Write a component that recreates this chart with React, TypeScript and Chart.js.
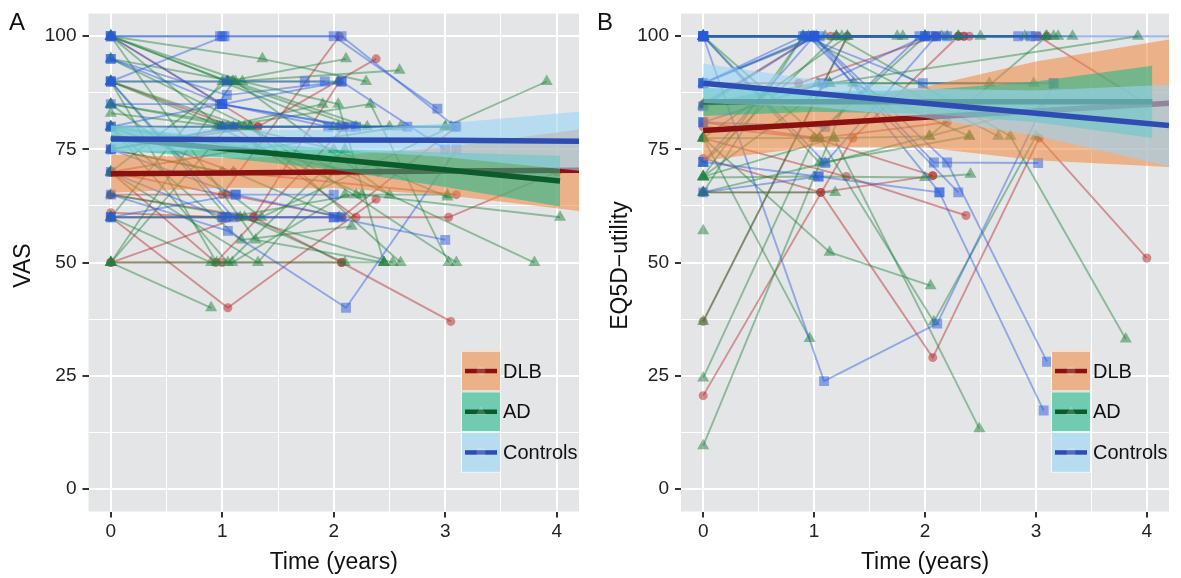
import React, { useEffect, useRef } from 'react';
import { Chart, registerables } from 'chart.js';

Chart.register(...registerables);

type Traj = number[][];

const FONT = '"Liberation Sans", Arial, Helvetica, sans-serif';
const groups = ['DLB', 'AD', 'Controls'];
const xGrid = [0, 0.5, 1, 1.5, 2, 2.5, 3, 3.5, 4];
const yGrid = [0, 12.5, 25, 37.5, 50, 62.5, 75, 87.5, 100];

// ---------- Panel A: VAS ----------
const vasDLB: Traj[] = [
  [[0, 70], [1.0, 65], [2.05, 100]],
  [[0, 50], [1.0, 50], [2.07, 50], [3.05, 37]],
  [[0, 60], [1.05, 40], [2.38, 64]],
  [[0, 75], [1.32, 80], [2.38, 95]],
  [[0, 65], [1.28, 60], [2.05, 90]],
  [[0, 61], [1.0, 60], [3.03, 60], [4.0, 70]],
  [[0, 70], [0.94, 50], [2.1, 80]],
  [[0, 80], [1.1, 70], [3.1, 65]],
  [[0, 65], [1.05, 65], [2.07, 60], [3.1, 80]],
  [[0, 70], [1.2, 75], [2.2, 70]],
  [[0, 50], [1.15, 60]],
  [[0, 75], [1.0, 70], [2.4, 70]],
  [[0, 90], [1.1, 80], [2.2, 60]],
  [[0, 100], [1.32, 80]],
  [[0, 60], [1.28, 60], [2.07, 50]],
];
const vasAD: Traj[] = [
  [[0, 100], [1.36, 95], [2.29, 90]],
  [[0, 85], [1.1, 80], [2.04, 80], [3.0, 80], [3.91, 90]],
  [[0, 100], [1.04, 90], [2.11, 95]],
  [[0, 90], [1.09, 90], [2.59, 92.5]],
  [[0, 100], [1.18, 90], [2.04, 85], [2.45, 50]],
  [[0, 83], [1.0, 80], [2.33, 85], [3.03, 50]],
  [[0, 80], [1.17, 55], [2.16, 58]],
  [[0, 60], [1.16, 60], [2.53, 50]],
  [[0, 50], [0.9, 40]],
  [[0, 50], [1.09, 50], [2.1, 65], [3.02, 65]],
  [[0, 70], [1.32, 50], [2.0, 70]],
  [[0, 90], [1.2, 80], [3.8, 50]],
  [[0, 80], [0.95, 80], [2.25, 65], [4.03, 60]],
  [[0, 60], [0.9, 50], [2.45, 50]],
  [[0, 75], [1.15, 80], [2.0, 75], [3.02, 64.5]],
  [[0, 90], [1.0, 80], [1.9, 85]],
  [[0, 100], [1.05, 90], [2.2, 80], [3.0, 80]],
  [[0, 70], [1.1, 70], [2.05, 60]],
  [[0, 100], [0.98, 80], [2.5, 80]],
  [[0, 65], [1.2, 60], [2.1, 50]],
  [[0, 85], [1.25, 80], [3.1, 50]],
  [[0, 75], [1.0, 70]],
  [[0, 95], [1.12, 90], [2.5, 65]],
  [[0, 50], [1.05, 80]],
  [[0, 80], [1.3, 75], [2.6, 80]],
  [[0, 100], [1.3, 55], [2.45, 50]],
  [[0, 90], [1.05, 60], [2.2, 65]],
  [[0, 80], [1.05, 50], [2.1, 75]],
  [[0, 60], [1.0, 90], [2.0, 80]],
  [[0, 50], [1.1, 90], [2.3, 80]],
  [[0, 95], [1.25, 80], [2.6, 50]],
  [[0, 90], [0.95, 50]],
  [[0, 85], [1.35, 60], [3.05, 80]],
  [[0, 70], [1.05, 90], [2.04, 90]],
];
const vasCtrl: Traj[] = [
  [[0, 100], [0.98, 100], [2.0, 100], [2.93, 84]],
  [[0, 90], [1.02, 100], [2.07, 100], [3.09, 80]],
  [[0, 95], [1.04, 87], [2.07, 90], [3.0, 75]],
  [[0, 90], [1.04, 90], [1.74, 90], [1.92, 90]],
  [[0, 80], [1.0, 80], [2.07, 80], [2.66, 80]],
  [[0, 75], [1.12, 65], [2.0, 65]],
  [[0, 60], [1.03, 60], [2.0, 60], [3.0, 55]],
  [[0, 65], [1.05, 57], [2.11, 40], [3.1, 75]],
  [[0, 85], [1.0, 85], [2.15, 80]],
  [[0, 80], [0.98, 85], [2.2, 80]],
  [[0, 60], [1.12, 65], [2.07, 60]],
  [[0, 100], [1.0, 100]],
  [[0, 95], [1.0, 85], [1.95, 80]],
  [[0, 75], [1.1, 80], [3.1, 80]],
  [[0, 70], [1.0, 60]],
  [[0, 100], [1.0, 85], [2.07, 90]],
  [[0, 90], [1.1, 60], [2.0, 60]],
];

const vasT = [0, 1, 2, 3, 4.2];
const vasTAD = [0, 1, 2, 3, 4.03];
const vasDLBFit = [69.6, 69.8, 70.0, 70.2, 70.4];
const vasDLBHi = [73.8, 73.1, 73.6, 75.5, 79.4];
const vasDLBLo = [65.4, 66.5, 66.4, 64.9, 61.4];
const vasADFit = [77.6, 75.2, 72.8, 70.5, 68.0];
const vasADHi = [80.4, 77.2, 75.1, 74.3, 73.6];
const vasADLo = [74.8, 73.2, 70.5, 66.7, 62.4];
const vasCtrlFit = [77.3, 77.2, 77.1, 77.0, 76.8];
const vasCtrlHi = [80.3, 79.4, 79.3, 80.7, 83.3];
const vasCtrlLo = [74.3, 75.0, 74.9, 73.3, 70.3];

// ---------- Panel B: EQ5D-utility ----------
const eqDLB: Traj[] = [
  [[0, 100], [1.0, 100], [2.1, 100], [3.02, 100], [4.0, 85]],
  [[0, 20.6], [1.35, 77.5], [2.3, 100]],
  [[0, 37], [1.3, 100], [2.35, 100]],
  [[0, 73], [1.06, 65.5], [2.07, 29], [3.03, 77.5], [4.0, 51]],
  [[0, 77.5], [1.29, 69], [2.37, 60.4]],
  [[0, 80], [1.0, 77.5], [2.07, 69.2]],
  [[0, 85], [1.0, 100], [2.3, 100]],
  [[0, 65.5], [1.06, 65.5], [2.07, 69.2]],
  [[0, 89.6], [0.86, 89.6], [2.1, 100]],
  [[0, 81], [1.05, 77.5], [2.2, 81]],
  [[0, 100], [1.2, 100], [2.4, 100], [3.1, 100]],
  [[0, 100], [1.15, 100], [2.35, 100]],
];
const eqAD: Traj[] = [
  [[0, 69], [1.14, 89.6], [3.92, 100]],
  [[0, 9.5], [1.35, 89.6], [2.4, 77.9]],
  [[0, 24.5], [1.0, 77.5], [2.0, 100]],
  [[0, 77.5], [1.14, 52.3], [2.05, 44.9]],
  [[0, 37], [1.3, 100], [2.0, 100]],
  [[0, 77.5], [0.96, 33.2]],
  [[0, 100], [1.05, 77.5], [2.08, 36.9], [3.0, 77.9]],
  [[0, 69], [1.18, 77.5], [2.49, 13.3]],
  [[0, 100], [1.2, 100], [2.77, 77.9], [3.81, 33.1]],
  [[0, 100], [1.0, 100], [2.0, 100], [3.33, 100]],
  [[0, 77.5], [1.18, 77.5], [2.04, 77.9], [3.1, 100]],
  [[0, 68.8], [1.0, 69], [2.0, 68.8], [2.41, 69.5]],
  [[0, 65.5], [1.19, 65.5]],
  [[0, 57]],
  [[0, 85], [1.03, 89.6], [2.58, 89.6]],
  [[0, 100], [1.05, 72], [2.4, 77.9]],
  [[0, 84.5], [1.14, 89.6], [2.98, 89.6]],
  [[0, 69], [0.9, 100], [2.66, 77.9]],
  [[0, 100], [0.95, 100], [1.8, 100], [3.16, 100]],
  [[0, 65.5], [1.1, 72], [2.04, 77.9], [3.05, 84.5]],
  [[0, 77.5], [1.3, 100], [2.2, 100], [3.09, 100]],
  [[0, 100], [1.25, 100], [2.5, 100]],
  [[0, 65.5], [0.9, 100], [2.3, 100]],
  [[0, 100], [0.98, 100], [2.15, 100], [3.2, 100]],
  [[0, 72], [1.2, 100], [2.0, 100]],
  [[0, 89.6], [1.02, 100], [1.75, 100], [2.9, 100]],
  [[0, 100], [1.1, 100], [2.3, 100]],
];
const eqCtrl: Traj[] = [
  [[0, 100], [1.0, 100], [2.0, 100], [2.95, 100], [4.4, 100]],
  [[0, 89.6], [0.9, 100], [1.98, 89.6], [3.16, 89.6]],
  [[0, 100], [1.09, 23.8], [2.11, 36.5], [3.16, 89.6]],
  [[0, 65.5], [1.04, 69], [2.13, 65.5], [3.07, 17.3]],
  [[0, 72.2], [1.0, 100], [2.2, 72.1], [3.1, 28.1]],
  [[0, 84.5], [1.0, 100], [2.08, 72.1], [3.02, 72]],
  [[0, 81], [1.08, 89.6], [2.0, 100], [3.0, 100]],
  [[0, 100], [0.95, 100], [2.3, 65.5]],
  [[0, 89.6], [1.0, 100], [2.13, 65.5]],
  [[0, 72.2], [1.04, 69]],
  [[0, 100], [1.1, 72], [2.1, 100]],
  [[0, 81], [1.1, 80], [1.95, 100]],
  [[0, 100], [1.0, 100], [2.1, 100], [2.84, 100]],
  [[0, 89.6], [1.05, 100], [2.05, 100]],
  [[0, 100], [0.92, 100], [2.2, 100]],
];

const eqT = [0, 1, 2, 3, 4.2];
const eqTAD = [0, 1, 2, 3, 4.05];
const eqDLBFit = [79.2, 80.6, 82.1, 83.5, 85.2];
const eqDLBHi = [85.9, 85.6, 88.8, 94.4, 99.3];
const eqDLBLo = [72.5, 75.6, 75.4, 72.6, 71.1];
const eqADFit = [85.5, 85.5, 85.5, 85.5, 85.5];
const eqADHi = [88.6, 87.7, 88.1, 90.0, 93.5];
const eqADLo = [82.4, 83.3, 82.9, 81.0, 77.5];
const eqCtrlFit = [89.6, 87.4, 85.2, 83.0, 80.3];
const eqCtrlHi = [94.0, 90.4, 88.4, 88.0, 89.3];
const eqCtrlLo = [85.2, 84.4, 82.0, 78.0, 71.3];

// ---------- styles ----------
const BG = '#E4E5E7';
const TRAJ = ['rgba(180,40,40,0.45)', 'rgba(30,130,60,0.45)', 'rgba(40,90,220,0.45)'];
const PFILL = ['rgba(180,40,40,0.5)', 'rgba(30,130,60,0.5)', 'rgba(40,90,220,0.5)'];
const PSTYLE = ['circle', 'triangle', 'rect'];
const PRAD = [4.5, 7, 7];
const BAND = ['rgba(240,135,60,0.55)', 'rgba(29,185,137,0.58)', 'rgba(154,211,245,0.6)'];
const FIT = ['#8B1010', '#0B5B2B', '#2E4DB3'];

interface Fit { t: number[]; fit: number[]; hi: number[]; lo: number[] }
interface PanelSpec {
  left: number; width: number; yAxisW: number; padRight: number;
  letter: string; yTitle: string; yTitleX: number;
  trajs: Traj[][]; fits: Fit[];
}

const panelA: PanelSpec = {
  left: 0, width: 590, yAxisW: 88.5, padRight: 11,
  letter: 'A', yTitle: 'VAS', yTitleX: 30,
  trajs: [vasDLB, vasAD, vasCtrl],
  fits: [
    { t: vasT, fit: vasDLBFit, hi: vasDLBHi, lo: vasDLBLo },
    { t: vasTAD, fit: vasADFit, hi: vasADHi, lo: vasADLo },
    { t: vasT, fit: vasCtrlFit, hi: vasCtrlHi, lo: vasCtrlLo },
  ],
};
const panelB: PanelSpec = {
  left: 590, width: 591, yAxisW: 91, padRight: 12,
  letter: 'B', yTitle: 'EQ5D\u2212utility', yTitleX: 37,
  trajs: [eqDLB, eqAD, eqCtrl],
  fits: [
    { t: eqT, fit: eqDLBFit, hi: eqDLBHi, lo: eqDLBLo },
    { t: eqTAD, fit: eqADFit, hi: eqADHi, lo: eqADLo },
    { t: eqT, fit: eqCtrlFit, hi: eqCtrlHi, lo: eqCtrlLo },
  ],
};

function drawMarker(ctx: CanvasRenderingContext2D, style: string, x: number, y: number, r: number, color: string) {
  ctx.fillStyle = color;
  ctx.beginPath();
  if (style === 'circle') {
    ctx.arc(x, y, r, 0, Math.PI * 2);
  } else if (style === 'triangle') {
    ctx.moveTo(x, y - r);
    ctx.lineTo(x + r * Math.sin((2 * Math.PI) / 3), y - r * Math.cos((2 * Math.PI) / 3));
    ctx.lineTo(x + r * Math.sin((4 * Math.PI) / 3), y - r * Math.cos((4 * Math.PI) / 3));
    ctx.closePath();
  } else {
    const s = r * Math.SQRT1_2;
    ctx.rect(x - s, y - s, 2 * s, 2 * s);
  }
  ctx.fill();
}

function makeConfig(p: PanelSpec): any {
  const seq: any[] = [];
  p.trajs.forEach((list, g) =>
    list.forEach((tr) =>
      seq.push({
        data: tr.map(([x, y]) => ({ x, y })),
        borderColor: TRAJ[g],
        borderWidth: 1.9,
        pointStyle: PSTYLE[g],
        pointRadius: PRAD[g],
        pointBackgroundColor: PFILL[g],
        pointBorderWidth: 0,
        pointBorderColor: 'rgba(0,0,0,0)',
        fill: false,
        tension: 0,
      })
    )
  );
  p.fits.forEach((f, g) => {
    seq.push({
      data: f.t.map((x, i) => ({ x, y: f.hi[i] })),
      borderColor: 'rgba(0,0,0,0)', borderWidth: 0, pointRadius: 0,
      fill: '+1', backgroundColor: BAND[g], tension: 0,
    });
    seq.push({
      data: f.t.map((x, i) => ({ x, y: f.lo[i] })),
      borderColor: 'rgba(0,0,0,0)', borderWidth: 0, pointRadius: 0, fill: false, tension: 0,
    });
    seq.push({
      data: f.t.map((x, i) => ({ x, y: f.fit[i] })),
      borderColor: FIT[g], borderWidth: 5.5, pointRadius: 0, fill: false, tension: 0,
      borderCapStyle: 'butt',
    });
  });
  const N = seq.length;
  seq.forEach((d, i) => (d.order = N - i));

  const majorX = (v: number) => Number.isInteger(v);
  const majorY = (v: number) => v % 25 === 0;

  const deco = {
    id: 'deco' + p.letter,
    beforeDraw(chart: any) {
      const { ctx, chartArea: a } = chart;
      ctx.save();
      ctx.fillStyle = BG;
      ctx.fillRect(a.left, a.top, a.right - a.left, a.bottom - a.top);
      ctx.restore();
    },
    afterDraw(chart: any) {
      const { ctx, chartArea: a } = chart;
      ctx.save();
      // legend
      const x0 = a.right - 118;
      const y0 = 350.7;
      const w = 40;
      const h = 40.7;
      groups.forEach((g, i) => {
        const y = y0 + i * h;
        ctx.fillStyle = BG;
        ctx.fillRect(x0, y, w, h);
        ctx.fillStyle = BAND[i];
        ctx.fillRect(x0, y, w, h);
        ctx.strokeStyle = 'rgba(255,255,255,0.85)';
        ctx.lineWidth = 1;
        ctx.strokeRect(x0 + 0.5, y + 0.5, w - 1, h - 1);
        ctx.strokeStyle = FIT[i];
        ctx.lineWidth = 4.5;
        ctx.lineCap = 'butt';
        ctx.beginPath();
        ctx.moveTo(x0 + 4, y + h / 2);
        ctx.lineTo(x0 + 36, y + h / 2);
        ctx.stroke();
        drawMarker(ctx, PSTYLE[i], x0 + w / 2, y + h / 2, i === 0 ? 4.5 : 6, 'rgba(255,255,255,0.18)');
        ctx.fillStyle = '#111';
        ctx.font = `20px ${FONT}`;
        ctx.textAlign = 'left';
        ctx.textBaseline = 'middle';
        ctx.fillText(g, x0 + 42, y + h / 2 + 1);
      });
      // titles
      ctx.fillStyle = '#111';
      ctx.font = `23px ${FONT}`;
      ctx.textAlign = 'center';
      ctx.textBaseline = 'alphabetic';
      ctx.fillText('Time (years)', (a.left + a.right) / 2, 569);
      ctx.save();
      ctx.translate(p.yTitleX, (a.top + a.bottom) / 2 + 3);
      ctx.rotate(-Math.PI / 2);
      ctx.fillText(p.yTitle, 0, 0);
      ctx.restore();
      ctx.font = `24px ${FONT}`;
      ctx.textAlign = 'left';
      ctx.fillText(p.letter, p.letter === 'A' ? 9 : 7, 30);
      ctx.restore();
    },
  };

  return {
    type: 'line',
    data: { datasets: seq },
    options: {
      animation: false,
      responsive: false,
      maintainAspectRatio: false,
      events: [],
      layout: { padding: { top: 8, right: p.padRight, bottom: 0, left: 0 } },
      plugins: { legend: { display: false }, tooltip: { enabled: false } },
      scales: {
        x: {
          type: 'linear',
          min: -0.2,
          max: 4.2,
          afterBuildTicks: (s: any) => {
            s.ticks = xGrid.map((v) => ({ value: v }));
          },
          afterFit: (s: any) => {
            s.height = 66.5;
          },
          border: { display: false },
          grid: {
            color: '#FFFFFF',
            lineWidth: (c: any) => (c.tick && majorX(c.tick.value) ? 2 : 1),
            tickColor: (c: any) => (c.tick && majorX(c.tick.value) ? '#333333' : 'rgba(0,0,0,0)'),
            tickWidth: 2,
            tickLength: 6,
          },
          ticks: {
            autoSkip: false,
            maxRotation: 0,
            padding: 3,
            color: '#222',
            font: { family: FONT, size: 19, lineHeight: 1.2 },
            callback: (v: any) => (majorX(Number(v)) ? String(v) : ''),
          },
        },
        y: {
          type: 'linear',
          min: -5,
          max: 105,
          afterBuildTicks: (s: any) => {
            s.ticks = yGrid.map((v) => ({ value: v }));
          },
          afterFit: (s: any) => {
            s.width = p.yAxisW;
          },
          border: { display: false },
          grid: {
            color: '#FFFFFF',
            lineWidth: (c: any) => (c.tick && majorY(c.tick.value) ? 2 : 1),
            tickColor: (c: any) => (c.tick && majorY(c.tick.value) ? '#333333' : 'rgba(0,0,0,0)'),
            tickWidth: 2,
            tickLength: 6,
          },
          ticks: {
            autoSkip: false,
            padding: 6,
            color: '#222',
            font: { family: FONT, size: 19, lineHeight: 0.8 },
            callback: (v: any) => (majorY(Number(v)) ? String(v) : ''),
          },
        },
      },
    },
    plugins: [deco],
  };
}

function Panel({ spec }: { spec: PanelSpec }) {
  const ref = useRef<HTMLCanvasElement>(null);
  useEffect(() => {
    if (!ref.current) return;
    const chart = new Chart(ref.current, makeConfig(spec));
    return () => chart.destroy();
  }, [spec]);
  return (
    <canvas
      ref={ref}
      width={spec.width}
      height={578}
      style={{ position: 'absolute', left: spec.left, top: 0, width: spec.width, height: 578 }}
    />
  );
}

export default function App() {
  return (
    <div
      style={{
        position: 'absolute',
        left: 0,
        top: 0,
        width: 1181,
        height: 578,
        background: '#FFFFFF',
        overflow: 'hidden',
      }}
    >
      <Panel spec={panelA} />
      <Panel spec={panelB} />
    </div>
  );
}
